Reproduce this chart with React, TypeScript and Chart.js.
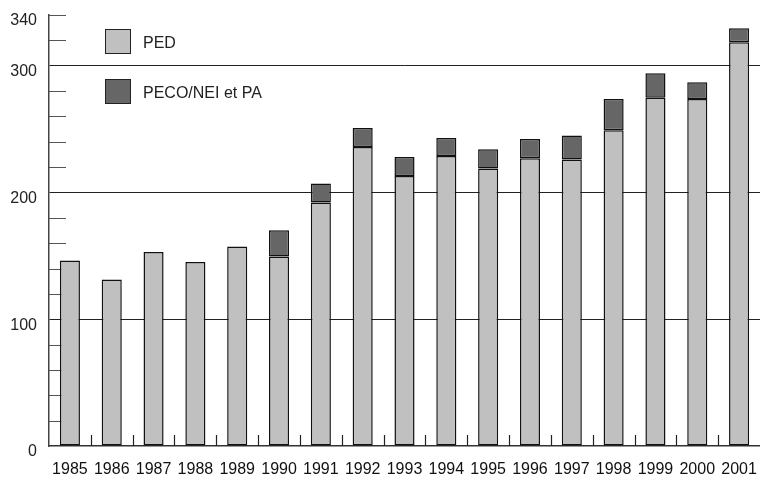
import React, { useEffect, useRef } from "react";
import { Chart, registerables } from "chart.js";
Chart.register(...registerables);

const years = ["1985", "1986", "1987", "1988", "1989", "1990", "1991", "1992", "1993", "1994", "1995", "1996", "1997", "1998", "1999", "2000", "2001"];
const ped = [146.3, 131.3, 153.1, 145.2, 157.3, 149.4, 192.1, 235.8, 212.9, 228.7, 219.0, 226.9, 226.1, 249.0, 274.7, 273.7, 318.5];
const peco = [null, null, null, null, null, 20.8, 15.0, 15.0, 15.0, 14.2, 15.0, 15.2, 18.9, 24.7, 19.3, 13.2, 11.0];
const yLabels = [0, 100, 200, 300, 340];
const majorGrid = [100, 200, 300];
const seriesNames = ["PED", "PECO/NEI et PA"];
const seriesColors = ["#c0c0c0", "#666666"];

const FONT = "'Liberation Sans', Arial, sans-serif";

const decor = {
  id: "decor",
  beforeDatasetsDraw(chart: any) {
    const { ctx, chartArea, scales } = chart;
    const y = scales.y;
    ctx.save();
    ctx.strokeStyle = "#555";
    ctx.lineWidth = 1;
    for (let v = 20; v <= 340; v += 20) {
      if (majorGrid.includes(v)) continue;
      const py = Math.round(y.getPixelForValue(v)) + 0.5;
      ctx.beginPath();
      ctx.moveTo(chartArea.left, py);
      ctx.lineTo(chartArea.left + 17, py);
      ctx.stroke();
    }
    const n = years.length;
    const cw = (chartArea.right - chartArea.left) / n;
    ctx.strokeStyle = "#222";
    ctx.lineWidth = 1.2;
    for (let i = 1; i < n; i++) {
      const px = Math.round(chartArea.left + i * cw) + 0.5;
      ctx.beginPath();
      ctx.moveTo(px, chartArea.bottom);
      ctx.lineTo(px, chartArea.bottom - 11);
      ctx.stroke();
    }
    ctx.restore();
  },
  afterDraw(chart: any) {
    const { ctx } = chart;
    ctx.save();
    const boxes = [29, 79];
    boxes.forEach((by, i) => {
      ctx.fillStyle = seriesColors[i];
      ctx.fillRect(105, by, 26, 25);
      ctx.strokeStyle = "#222";
      ctx.lineWidth = 1;
      ctx.strokeRect(105.5, by + 0.5, 25, 24);
      ctx.fillStyle = "#222";
      ctx.font = "16px " + FONT;
      ctx.textBaseline = "middle";
      ctx.textAlign = "left";
      ctx.fillText(seriesNames[i], 143, by + 15);
    });
    ctx.restore();
  },
};

export default function App() {
  const ref = useRef<HTMLCanvasElement>(null);
  useEffect(() => {
    if (!ref.current) return;
    const chart = new Chart(ref.current, {
      type: "bar",
      data: {
        labels: years,
        datasets: [
          {
            label: seriesNames[0],
            data: ped,
            backgroundColor: seriesColors[0],
            borderColor: "#111",
            borderWidth: 1.5,
            borderSkipped: false,
            barPercentage: 0.48,
            categoryPercentage: 1,
          },
          {
            label: seriesNames[1],
            data: peco as any,
            backgroundColor: seriesColors[1],
            borderColor: "#111",
            borderWidth: 1.5,
            borderSkipped: false,
            barPercentage: 0.48,
            categoryPercentage: 1,
          },
        ],
      },
      options: {
        responsive: false,
        animation: false,
        layout: { padding: { top: 15, right: 0, left: 0, bottom: 0 } },
        plugins: { legend: { display: false }, tooltip: { enabled: false } },
        scales: {
          x: {
            stacked: true,
            grid: { display: false, drawTicks: false },
            border: { display: true, color: "#333", width: 1.5 },
            ticks: { color: "#111", font: { family: FONT, size: 16 }, padding: 14, maxRotation: 0, autoSkip: false },
            afterFit: (s: any) => { s.height = 31; s.paddingLeft = 0; s.paddingRight = 0; },
          },
          y: {
            stacked: true,
            min: 0,
            max: 340,
            grid: {
              drawTicks: false,
              color: (c: any) => (c.tick && majorGrid.includes(c.tick.value) ? "#222" : "rgba(0,0,0,0)"),
              lineWidth: 1,
            },
            border: { display: true, color: "#444", width: 1.5 },
            ticks: {
              stepSize: 20,
              autoSkip: false,
              color: "#222",
              padding: 12,
              labelOffset: 6,
              font: { family: FONT, size: 16 },
              callback: (v: any) => (yLabels.includes(Number(v)) ? String(v) : ""),
            },
            afterFit: (s: any) => { s.width = 49; s.paddingTop = 0; s.paddingBottom = 0; },
          },
        },
      },
      plugins: [decor],
    });
    return () => chart.destroy();
  }, []);
  return (
    <div style={{ position: "absolute", left: 0, top: 0, width: 760, height: 477, background: "#fff" }}>
      <canvas ref={ref} width={760} height={477} />
    </div>
  );
}
